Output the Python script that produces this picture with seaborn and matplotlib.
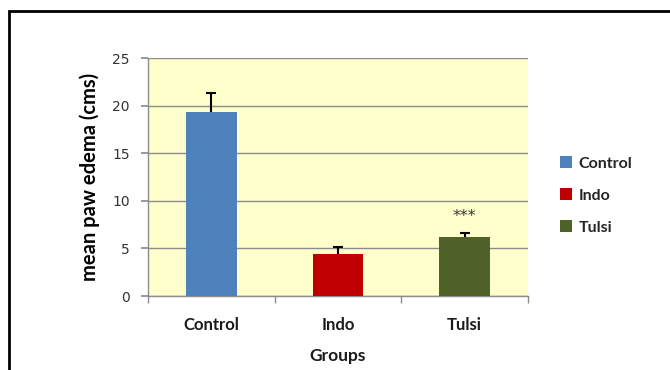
import matplotlib
matplotlib.use("Agg")
import matplotlib.pyplot as plt
from matplotlib.patches import Rectangle, Patch
import seaborn as sns
import pandas as pd

groups = ["Control", "Indo", "Tulsi"]
means = [19.3, 4.4, 6.15]
errors = [2.05, 0.7, 0.45]
colors = ["#4F81BD", "#C00000", "#4F6228"]
yticks = [0, 5, 10, 15, 20, 25]

sns.set_theme(style="white")
plt.rcParams["font.family"] = ["Lato", "DejaVu Sans"]

df = pd.DataFrame({"Groups": groups, "mean": means})

fig = plt.figure(figsize=(6.7, 3.7), dpi=100)
ax = fig.add_axes([148/670, 1-296/370, (528-148)/670, (296-58)/370])
ax.set_facecolor("#FFFFCC")

ax.errorbar(range(len(groups)), means, yerr=errors,
            fmt="none", ecolor="black", elinewidth=1.5, capsize=3.6,
            capthick=1.5, zorder=2.5)
sns.barplot(data=df, x="Groups", y="mean", hue="Groups", palette=colors,
            width=0.4, legend=False, ax=ax, errorbar=None, zorder=3,
            edgecolor="none", saturation=1)

ax.set_ylim(0, 25)
ax.set_xlim(-0.5, 2.5)
ax.set_yticks(yticks)
ax.set_yticklabels([str(v) for v in yticks], fontfamily="DejaVu Sans",
                   fontsize=10, color="#333333")
ax.yaxis.grid(True, color="#8C8C8C", linewidth=1.0, zorder=0)
ax.set_axisbelow(True)
for s in ["top", "right"]:
    ax.spines[s].set_visible(False)
for s in ["left", "bottom"]:
    ax.spines[s].set_color("#8C8C8C")
    ax.spines[s].set_linewidth(1.0)

ax.tick_params(axis="y", which="major", left=True, length=5, color="#8C8C8C",
               direction="out", pad=8)
ax.set_xticks([0, 1, 2])
ax.set_xticklabels(groups, fontweight="bold", fontsize=12, color="#1a1a1a")
ax.set_xticks([-0.5, 0.5, 1.5, 2.5], minor=True)
ax.tick_params(axis="x", which="major", bottom=False, length=0, pad=15)
ax.tick_params(axis="x", which="minor", bottom=True, length=5,
               color="#8C8C8C", direction="out")

ax.set_xlabel("Groups", fontweight="bold", fontsize=12.5, labelpad=11,
              color="#1a1a1a")
ax.set_ylabel("mean paw edema (cms)", fontweight="bold", fontsize=14.5,
              labelpad=9, color="#000000")

ax.text(2, means[2] + errors[2] + 1.8, "***", ha="center", va="center",
        fontsize=11.5, color="#333333", fontfamily="DejaVu Sans")

handles = [Patch(facecolor=c, edgecolor="none") for c in colors]
fig.legend(handles, groups, loc="upper left",
           bbox_to_anchor=(546/670, 1-142/370), frameon=False,
           prop={"weight": "bold", "size": 11.5}, handlelength=0.75,
           handleheight=0.75, handletextpad=0.4, labelspacing=1.1)

fig.patches.append(Rectangle((9/670, -0.1), 1.2, 1 - 11/370 + 0.1,
                             transform=fig.transFigure, fill=False,
                             edgecolor="black", linewidth=2.0))

fig.savefig("out.png", dpi=100)
